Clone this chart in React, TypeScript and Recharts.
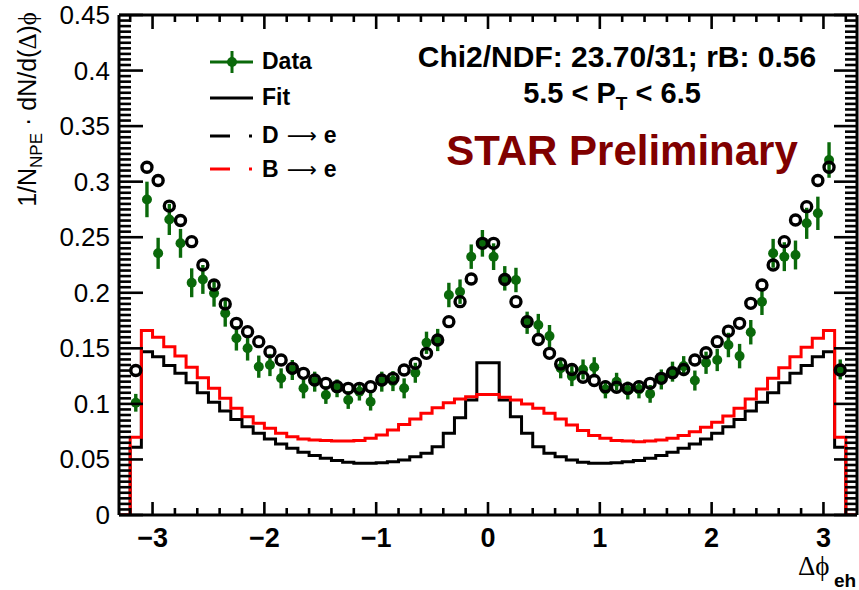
import React from "react";
import { ComposedChart, Line, Scatter, XAxis, YAxis, ErrorBar } from "recharts";

// 64 bins of width 0.1 from -3.2 to 3.2
const binLow = -3.2;
const binWidth = 0.1;
const binCenters = Array.from({ length: 64 }, (_, i) => +(binLow + binWidth * (i + 0.5)).toFixed(2));

const dataY = [
  0.101, 0.284, 0.2355, 0.266, 0.2445, 0.209, 0.212, 0.1995, 0.1815, 0.159, 0.15, 0.1335, 0.135, 0.123, 0.1305, 0.114,
  0.12, 0.108, 0.114, 0.1035, 0.111, 0.102, 0.12, 0.1205, 0.114, 0.128, 0.155, 0.1575, 0.198, 0.201, 0.2325, 0.2445,
  0.2325, 0.213, 0.2115, 0.173, 0.171, 0.161, 0.132, 0.125, 0.131, 0.133, 0.113, 0.12, 0.112, 0.113, 0.109, 0.122,
  0.129, 0.134, 0.121, 0.137, 0.1395, 0.153, 0.143, 0.1645, 0.192, 0.2355, 0.2325, 0.234, 0.2625, 0.2715, 0.3195, 0.131,
];
const dataErr = [
  0.008, 0.016, 0.014, 0.014, 0.013, 0.013, 0.013, 0.012, 0.012, 0.011, 0.011, 0.01, 0.01, 0.009, 0.009, 0.009,
  0.009, 0.008, 0.008, 0.008, 0.008, 0.008, 0.009, 0.009, 0.009, 0.009, 0.01, 0.01, 0.011, 0.011, 0.011, 0.012,
  0.012, 0.011, 0.011, 0.01, 0.01, 0.01, 0.009, 0.009, 0.009, 0.009, 0.008, 0.008, 0.008, 0.008, 0.008, 0.009,
  0.009, 0.009, 0.009, 0.01, 0.01, 0.011, 0.011, 0.011, 0.012, 0.013, 0.013, 0.013, 0.014, 0.015, 0.016, 0.009,
];
const fitY = [
  0.13, 0.313, 0.301, 0.278, 0.265, 0.246, 0.225, 0.207, 0.19, 0.1725, 0.165, 0.156, 0.147, 0.1395, 0.132, 0.1275,
  0.1215, 0.1185, 0.1155, 0.114, 0.114, 0.1155, 0.1215, 0.123, 0.1305, 0.1365, 0.1455, 0.1575, 0.174, 0.192, 0.2124, 0.2445,
  0.2445, 0.212, 0.192, 0.174, 0.158, 0.1455, 0.136, 0.131, 0.124, 0.121, 0.1155, 0.115, 0.114, 0.1155, 0.1185, 0.123,
  0.128, 0.131, 0.1395, 0.146, 0.156, 0.1655, 0.1725, 0.1905, 0.207, 0.225, 0.246, 0.2655, 0.2775, 0.301, 0.313, 0.1305,
];
const dToE = [
  0.061, 0.147, 0.1425, 0.1345, 0.1275, 0.119, 0.11, 0.1015, 0.0935, 0.086, 0.0795, 0.0735, 0.0685, 0.064, 0.06, 0.0565,
  0.0535, 0.051, 0.049, 0.0475, 0.0465, 0.0465, 0.047, 0.048, 0.0495, 0.0525, 0.0555, 0.0615, 0.0735, 0.0875, 0.1035, 0.137,
  0.137, 0.1035, 0.0885, 0.0735, 0.0615, 0.0555, 0.0525, 0.0495, 0.0475, 0.0465, 0.0465, 0.047, 0.048, 0.049, 0.051, 0.0535,
  0.0565, 0.06, 0.064, 0.0685, 0.0735, 0.0795, 0.086, 0.0935, 0.1015, 0.11, 0.119, 0.1275, 0.1345, 0.1425, 0.147, 0.061,
];
const bToE = [
  0.07, 0.166, 0.16, 0.1515, 0.143, 0.133, 0.1235, 0.114, 0.105, 0.096, 0.0885, 0.0825, 0.078, 0.0735, 0.0705, 0.0685,
  0.0675, 0.067, 0.0665, 0.0665, 0.067, 0.069, 0.072, 0.0765, 0.0815, 0.0865, 0.0915, 0.0965, 0.101, 0.1045, 0.1065, 0.1085,
  0.1085, 0.106, 0.1035, 0.1, 0.096, 0.0915, 0.0865, 0.081, 0.076, 0.0715, 0.069, 0.067, 0.0665, 0.066, 0.0665, 0.0675,
  0.069, 0.0715, 0.075, 0.079, 0.0835, 0.089, 0.096, 0.1045, 0.1135, 0.123, 0.1325, 0.1425, 0.151, 0.159, 0.166, 0.07,
];

const xDomain: [number, number] = [-3.3, 3.3];
const yDomain: [number, number] = [0, 0.45];
const xTicks = Array.from({ length: 33 }, (_, i) => +(-3.2 + i * 0.2).toFixed(1));
const yTicks = Array.from({ length: 91 }, (_, i) => i / 200);

const green = "#0a690a";
const sans = "'Liberation Sans', Arial, Helvetica, sans-serif";
const serif = "'Liberation Serif', 'Times New Roman', serif";

const dataPoints = binCenters.map((x, i) => ({ x, y: dataY[i], err: dataErr[i] }));
const fitPoints = binCenters.map((x, i) => ({ x, y: fitY[i] }));
const histPoints = (vals: number[]) => [
  { x: xDomain[0], y: 0 },
  ...vals.map((v, i) => ({ x: +(binLow + i * binWidth).toFixed(2), y: v })),
  { x: -binLow, y: 0 },
  { x: xDomain[1], y: 0 },
];

const isMajorX = (v: number) => Math.abs(v - Math.round(v)) < 1e-6;
const isMajorY = (v: number) => Math.round(v * 200) % 10 === 0;
const xLabel = (v: number) => (v < 0 ? "\u2212" + Math.abs(Math.round(v)) : String(Math.round(v)));
const yLabel = (v: number) => (v === 0 ? "0" : String(Number(v.toFixed(2))));

const BottomTick = ({ x, y, payload }: any) => {
  const major = isMajorX(payload.value);
  return (
    <g>
      <line x1={x} x2={x} y1={y} y2={y - (major ? 13 : 7)} stroke="#000" strokeWidth={2.6} />
      {major && (
        <text x={x} y={y + 32} textAnchor="middle" fontFamily={sans} fontWeight="bold" fontSize={27} fill="#000">
          {xLabel(payload.value)}
        </text>
      )}
    </g>
  );
};
const TopTick = ({ x, y, payload }: any) => {
  const major = isMajorX(payload.value);
  return <line x1={x} x2={x} y1={y} y2={y + (major ? 14 : 7)} stroke="#000" strokeWidth={2.6} />;
};
const LeftTick = ({ x, y, payload }: any) => {
  const major = isMajorY(payload.value);
  return (
    <g>
      <line x1={x} x2={x + (major ? 24 : 12)} y1={y} y2={y} stroke="#000" strokeWidth={2.6} />
      {major && (
        <text x={x - 9} y={y + 9} textAnchor="end" fontFamily={sans} fontSize={26} fill="#000">
          {yLabel(payload.value)}
        </text>
      )}
    </g>
  );
};
const RightTick = ({ x, y, payload }: any) => {
  const major = isMajorY(payload.value);
  return <line x1={x} x2={x - (major ? 23 : 12)} y1={y} y2={y} stroke="#000" strokeWidth={2.6} />;
};

const DataDot = (props: any) => <circle cx={props.cx} cy={props.cy} r={5} fill={green} />;
const FitDot = (props: any) => (
  <circle cx={props.cx} cy={props.cy} r={5} fill="none" stroke="#000" strokeWidth={3.4} />
);

const axisLine = { stroke: "#000", strokeWidth: 3 };
const arrowFont = "'DejaVu Sans', sans-serif";

export default function App() {
  return (
    <div style={{ position: "absolute", left: 0, top: 0, width: 859, height: 590, background: "#fff" }}>
      <ComposedChart width={859} height={590} margin={{ top: 0, right: 0, bottom: 0, left: 0 }}>
        <XAxis
          xAxisId={0}
          dataKey="x"
          type="number"
          domain={xDomain}
          ticks={xTicks}
          interval={0}
          allowDataOverflow
          height={75}
          tickSize={0}
          tickMargin={0}
          tickLine={false}
          axisLine={axisLine}
          tick={<BottomTick />}
        />
        <XAxis
          xAxisId="top"
          orientation="top"
          dataKey="x"
          type="number"
          domain={xDomain}
          ticks={xTicks}
          interval={0}
          allowDataOverflow
          height={15}
          tickSize={0}
          tickMargin={0}
          tickLine={false}
          axisLine={axisLine}
          tick={<TopTick />}
        />
        <YAxis
          yAxisId={0}
          dataKey="y"
          type="number"
          domain={yDomain}
          ticks={yTicks}
          interval={0}
          allowDataOverflow
          width={119}
          tickSize={0}
          tickMargin={0}
          tickLine={false}
          axisLine={axisLine}
          tick={<LeftTick />}
        />
        <YAxis
          yAxisId="right"
          orientation="right"
          dataKey="y"
          type="number"
          domain={yDomain}
          ticks={yTicks}
          interval={0}
          allowDataOverflow
          width={2}
          tickSize={0}
          tickMargin={0}
          tickLine={false}
          axisLine={axisLine}
          tick={<RightTick />}
        />
        <Line
          data={histPoints(dToE)}
          dataKey="y"
          type="stepAfter"
          stroke="#000"
          strokeWidth={3}
          dot={false}
          isAnimationActive={false}
        />
        <Line
          data={histPoints(bToE)}
          dataKey="y"
          type="stepAfter"
          stroke="#ff0000"
          strokeWidth={3}
          dot={false}
          isAnimationActive={false}
        />
        <Scatter data={dataPoints} dataKey="y" shape={<DataDot />} isAnimationActive={false}>
          <ErrorBar dataKey="err" direction="y" width={0} stroke={green} strokeWidth={3.4} />
        </Scatter>
        <Scatter data={fitPoints} dataKey="y" shape={<FitDot />} isAnimationActive={false} />
      </ComposedChart>

      <svg
        width={859}
        height={590}
        style={{ position: "absolute", left: 0, top: 0, pointerEvents: "none" }}
        fontFamily={sans}
      >
        {/* y title */}
        <text transform="translate(36,12) rotate(-90)" textAnchor="end" fontSize={25} fill="#000">
          1/N
          <tspan fontSize={17} dy={6}>NPE</tspan>
          <tspan dy={-6}> {"\u00b7"} dN/d(</tspan>
          <tspan fontFamily={serif}>{"\u0394"}</tspan>
          <tspan>)</tspan>
          <tspan fontFamily={serif}>{"\u03d5"}</tspan>
        </text>
        {/* x title */}
        <text x={798} y={575} fontFamily={serif} fontSize={27} fill="#000">
          {"\u0394\u03d5"}
        </text>
        <text x={834} y={587} fontSize={19} fontWeight="bold" fill="#000">
          eh
        </text>

        {/* legend */}
        <line x1={210} x2={253} y1={62} y2={62} stroke={green} strokeWidth={3} />
        <line x1={232} x2={232} y1={51} y2={73} stroke={green} strokeWidth={3} />
        <circle cx={232} cy={62} r={5} fill={green} />
        <text x={262} y={69} fontSize={23} fontWeight="bold" fill="#000">Data</text>

        <line x1={210} x2={253} y1={98} y2={98} stroke="#000" strokeWidth={3} />
        <text x={262} y={105} fontSize={23} fontWeight="bold" fill="#000">Fit</text>

        <line x1={210} x2={230} y1={136} y2={136} stroke="#000" strokeWidth={3} />
        <line x1={249} x2={252} y1={136} y2={136} stroke="#000" strokeWidth={3} />
        <text x={262} y={143} fontSize={23} fontWeight="bold" fill="#000">
          D
          <tspan fontFamily={arrowFont} fontWeight="normal" fontSize={21} dx={8}>{"\u27f6"}</tspan>
          <tspan dx={7}>e</tspan>
        </text>

        <line x1={210} x2={230} y1={169} y2={169} stroke="#ff0000" strokeWidth={3} />
        <line x1={249} x2={252} y1={169} y2={169} stroke="#ff0000" strokeWidth={3} />
        <text x={262} y={177} fontSize={23} fontWeight="bold" fill="#000">
          B
          <tspan fontFamily={arrowFont} fontWeight="normal" fontSize={21} dx={8}>{"\u27f6"}</tspan>
          <tspan dx={7}>e</tspan>
        </text>

        {/* annotations */}
        <text x={617} y={67} textAnchor="middle" fontSize={30} fontWeight="bold" fill="#000">
          Chi2/NDF: 23.70/31; rB: 0.56
        </text>
        <text x={612} y={103} textAnchor="middle" fontSize={29} fontWeight="bold" fill="#000">
          5.5 {"<"} P<tspan fontSize={19} dy={7}>T</tspan>
          <tspan dy={-7}> {"<"} 6.5</tspan>
        </text>
        <text x={622} y={165} textAnchor="middle" fontSize={42} fontWeight="bold" fill="#800000">
          STAR Preliminary
        </text>
      </svg>
    </div>
  );
}
